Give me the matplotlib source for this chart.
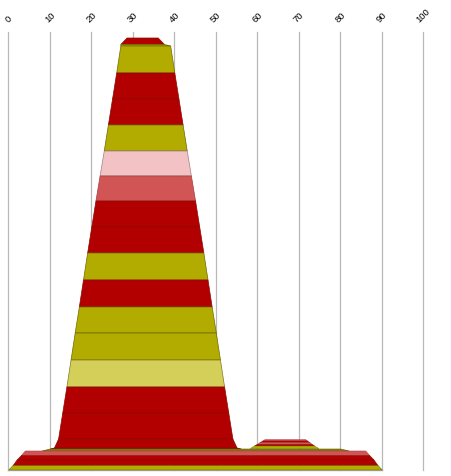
import matplotlib
matplotlib.use("Agg")
import matplotlib.pyplot as plt

RED, OLIVE, PALE_OLIVE, SOFT_RED, PINK = "#B20000", "#B2AC00", "#D3CF58", "#D25555", "#F2C2C4"
EDGES = {RED: "#8A0A00", OLIVE: "#6E6A00", PALE_OLIVE: "#7C7A20", SOFT_RED: "#A04040", PINK: "#A08080"}

tick_values = [0, 10, 20, 30, 40, 50, 60, 70, 80, 90, 100]

# Main peak: band boundaries from top to bottom
peak_levels = [432, 425.5, 424, 397, 371, 345, 319, 294, 269, 243, 217, 190, 163, 137, 110, 83, 57, 31, 22, 21]
peak_left = [28.5, 27, 27, 26, 25, 24, 23, 22, 21, 20, 19, 18, 17, 16, 15, 14, 13, 12, 11, 10]
peak_right = [36, 37.5, 39, 40, 41, 42, 43, 44, 45, 46, 47, 48, 49, 50, 51, 52, 53, 54, 55, 56]
peak_colors = [RED, OLIVE, OLIVE, RED, RED, OLIVE, PINK, SOFT_RED, RED, RED, OLIVE, RED,
               OLIVE, OLIVE, PALE_OLIVE, RED, RED, RED, RED]

# Small second peak
small_levels = [30.5, 29, 27.3, 25.7, 24, 21.5]
small_left = [61.8, 61.2, 60.5, 59.9, 59.2, 58.2]
small_right = [71.5, 72.0, 72.6, 73.1, 73.7, 74.7]
small_colors = [SOFT_RED, RED, SOFT_RED, RED, OLIVE]

# Thin sliver under the peaks
sliver_levels = [21, 19]
sliver_left = [10, 8]
sliver_right = [80, 82]
sliver_colors = ["#8A8408"]

# Base stack
base_levels = [19, 14.3, 10, 4.3, 0]
base_left = [4, 3, 2, 1, 0]
base_right = [86, 87, 88, 89, 90]
base_colors = [SOFT_RED, RED, RED, OLIVE]

fig = plt.figure(figsize=(4.52, 4.77), dpi=100)
W, H = 452, 477
ax = fig.add_axes([8.3 / W, (H - 470.5) / H, 415 / W, 437.5 / H])
ax.set_xlim(0, 100)
ax.set_ylim(0, 437.5)


def draw(levels, left, right, colors, z, lw):
    for i, c in enumerate(colors):
        ax.fill_betweenx(levels[i:i + 2], left[i:i + 2], right[i:i + 2], facecolor=c,
                         edgecolor=EDGES.get(c, "#5E5A00"), linewidth=lw, zorder=z)


draw(small_levels, small_left, small_right, small_colors, 3, 0.3)
draw(peak_levels, peak_left, peak_right, peak_colors, 3, 0.5)
draw(sliver_levels, sliver_left, sliver_right, sliver_colors, 4, 0.4)
draw(base_levels, base_left, base_right, base_colors, 5, 0.4)

for s in ["top", "left", "right"]:
    ax.spines[s].set_visible(False)
ax.spines["bottom"].set_color("#B0B0B0")
ax.spines["bottom"].set_linewidth(1)
ax.spines["bottom"].set_bounds(0, 90)
ax.set_yticks([])
ax.xaxis.tick_top()
ax.set_xticks(tick_values)
ax.set_xticklabels([str(v) for v in tick_values], rotation=45, family="Liberation Sans", fontsize=6.8)
ax.tick_params(axis="x", length=0, pad=6.5, colors="black")
ax.grid(axis="x", color="#B8B8B8", linewidth=0.9, zorder=1)
ax.set_axisbelow(True)
for line in ax.get_xgridlines():
    line.set_clip_on(False)

fig.savefig("out.png", dpi=100)
